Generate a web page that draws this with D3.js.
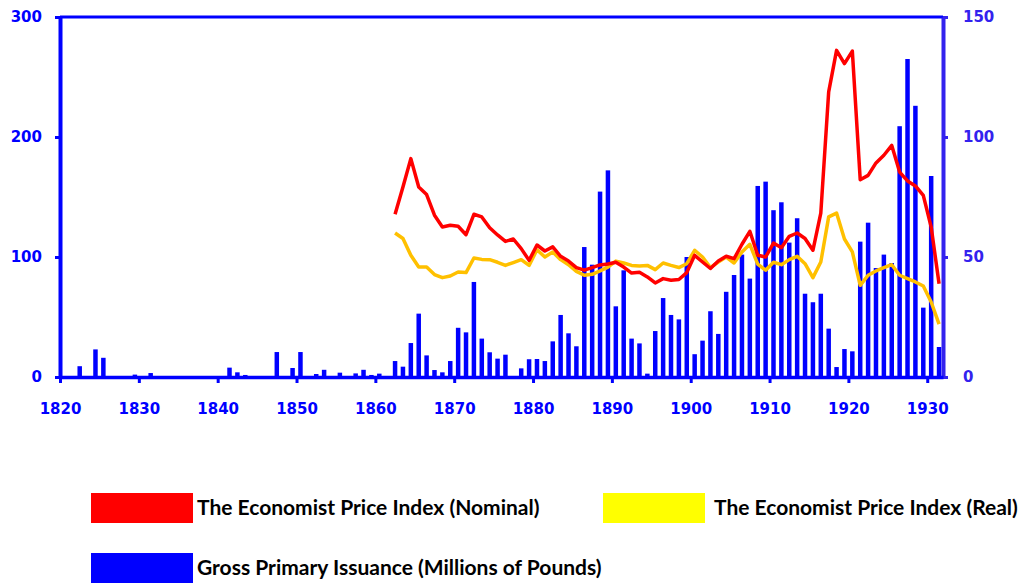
<!DOCTYPE html>
<html>
<head>
<meta charset="utf-8">
<script src="https://cdn.jsdelivr.net/npm/d3@7"></script>
<style>
  body { margin: 0; background: #fff; }
  .tick text { font-family: "DejaVu Sans", sans-serif; font-weight: bold; font-size: 15px; }
  .legend text { font-family: Lato, sans-serif; font-weight: bold; font-size: 21px; fill: #000; }
</style>
</head>
<body>
<script>
// categories (one per year)
const years = d3.range(1820, 1932);
const lineYears = d3.range(1862, 1932);

// Gross primary issuance, millions of pounds (left axis)
const issuance = [
  0, 0, 9, 0, 23, 16, 0, 0, 0, 2,
  0, 3.3, 0, 0, 0, 0, 0, 0.8, 0, 0,
  0, 7.8, 3.9, 1.7, 0, 0, 0, 20.8, 0, 7.5,
  20.8, 0, 2.5, 6, 0, 3.6, 0, 3, 6, 1.7,
  2.8, 0, 13.3, 8.6, 28.3, 52.8, 18, 5.8, 3.9, 13.3,
  41, 37.2, 79.2, 32, 20.6, 15.3, 18.6, 0, 7.2, 14.8,
  15, 13.3, 29.7, 51.7, 36.4, 25.6, 108.3, 93.6, 154.5, 172.2,
  58.9, 88.9, 32, 28, 2.8, 38.3, 65.8, 51.7, 48, 100,
  19, 30.3, 54.8, 35.9, 71, 85, 102, 82, 159.2, 162.8,
  139, 145.6, 112, 132.3, 69.4, 62.3, 69.4, 40.3, 8.3, 23.3,
  21.4, 112.8, 128.6, 90.8, 102, 95, 209, 265, 226, 57.8,
  167.5, 25
];

// The Economist price index (right axis), 1862-1931
const nominal = [
  67.8, 79.2, 91, 79.2, 76, 67.4, 62.5, 63.2, 62.8, 59.3,
  67.8, 66.7, 62.2, 59.2, 56.5, 57.5, 53.5, 48.6, 55, 52.5,
  54.2, 50.3, 48.3, 45.6, 44.5, 45.6, 46.7, 47.1, 47.8, 45.8,
  43.3, 43.6, 41.7, 39.2, 41, 40.3, 40.6, 43.5, 50.7, 47.9,
  45.2, 48.3, 50.3, 49.3, 55.3, 60.7, 50.7, 50, 55.8, 53.9,
  58.6, 60, 57.7, 52.8, 68.3, 118.8, 136.1, 130.6, 135.8, 82.2,
  84, 89.2, 92.4, 96.5, 85.4, 81.7, 79.6, 75.7, 62.5, 38.9
];
const real = [
  60, 57.7, 50.7, 45.8, 45.8, 42.7, 41.4, 42.1, 43.75, 43.5,
  49.6, 49, 48.9, 47.8, 46.5, 47.7, 48.9, 46.5, 53, 50,
  52.1, 48.9, 46.8, 44, 42.4, 42.8, 44.2, 45.8, 48.3, 47.5,
  46.5, 46.25, 46.5, 44.75, 47.5, 46.5, 45.6, 47.2, 52.8, 50,
  45.6, 47.9, 50, 47.5, 52.1, 55.3, 47, 44.5, 47.8, 46.8,
  48.9, 50.3, 47.2, 41.4, 47.9, 66.7, 68.3, 57.5, 52.1, 38.2,
  42.4, 44.2, 45.6, 46.8, 42.4, 41, 39.6, 37.9, 31.25, 22
];

const xTicks = d3.range(1820, 1931, 10);
const leftTicks = [0, 100, 200, 300];
const rightTicks = [0, 50, 100, 150];

const svgWidth = 1027;
const svgHeight = 585;
const margin = { top: 17, right: 84, bottom: 208, left: 60 };
const width = svgWidth - margin.left - margin.right;
const height = svgHeight - margin.top - margin.bottom;

const blue = '#0000ff';
const blue2 = '#3322ee';

const svg = d3.select('body')
  .append('svg')
  .attr('width', svgWidth)
  .attr('height', svgHeight);

const g = svg.append('g')
  .attr('transform', `translate(${margin.left},${margin.top})`);

const x = d3.scaleBand().domain(years).range([0, width]).paddingInner(0.43).paddingOuter(0.215);
const xAx = d3.scaleLinear().domain([1820, 1932]).range([0, width]);
const yL = d3.scaleLinear().domain([0, 300]).range([height, 0]);
const yR = d3.scaleLinear().domain([0, 150]).range([height, 0]);

// bars
g.append('g')
  .selectAll('rect')
  .data(years.map((yr, i) => ({ yr, v: issuance[i] })).filter(d => d.v > 0))
  .join('rect')
    .attr('x', d => x(d.yr))
    .attr('width', x.bandwidth())
    .attr('y', d => yL(d.v))
    .attr('height', d => height - yL(d.v))
    .attr('fill', blue);

const line = d3.line()
  .x(d => xAx(d.yr + 0.5))
  .y(d => yR(d.v));

g.append('path')
  .datum(lineYears.map((yr, i) => ({ yr, v: real[i] })))
  .attr('fill', 'none')
  .attr('stroke', '#ffc000')
  .attr('stroke-width', 3.5)
  .attr('stroke-linejoin', 'round')
  .attr('d', line);

g.append('path')
  .datum(lineYears.map((yr, i) => ({ yr, v: nominal[i] })))
  .attr('fill', 'none')
  .attr('stroke', '#ff0000')
  .attr('stroke-width', 3.5)
  .attr('stroke-linejoin', 'round')
  .attr('d', line);

// top border
g.append('line')
  .attr('x1', 0).attr('x2', width)
  .attr('y1', 0).attr('y2', 0)
  .attr('stroke', blue)
  .attr('stroke-width', 3);

const styleAxis = (sel, color, w) => {
  sel.select('.domain').attr('stroke', color).attr('stroke-width', w);
  sel.selectAll('.tick line').attr('stroke', color).attr('stroke-width', 3);
  sel.selectAll('.tick text').attr('fill', color);
};

g.append('g')
  .attr('transform', `translate(${width},0)`)
  .call(d3.axisRight(yR).tickValues(rightTicks).tickSize(5).tickSizeOuter(0).tickPadding(15))
  .call(s => styleAxis(s, blue2, 4));

g.append('g')
  .call(d3.axisLeft(yL).tickValues(leftTicks).tickSize(5).tickSizeOuter(0).tickPadding(13))
  .call(s => styleAxis(s, blue, 4));

g.append('g')
  .attr('transform', `translate(0,${height})`)
  .call(d3.axisBottom(xAx).tickValues(xTicks).tickFormat(d3.format('d')).tickSize(6).tickSizeOuter(0).tickPadding(20))
  .call(s => styleAxis(s, blue, 3.5));

// legend
const legendItems = [
  { label: 'The Economist Price Index (Nominal)', color: '#ff0000', x: 91, y: 493, tx: 197 },
  { label: 'The Economist Price Index (Real)', color: '#ffff00', x: 603, y: 493, tx: 714 },
  { label: 'Gross Primary Issuance (Millions of Pounds)', color: '#0000ff', x: 91, y: 553, tx: 197 }
];

const legend = svg.append('g').attr('class', 'legend');
legend.selectAll('rect')
  .data(legendItems)
  .join('rect')
    .attr('x', d => d.x)
    .attr('y', d => d.y)
    .attr('width', 102)
    .attr('height', 30)
    .attr('fill', d => d.color);
legend.selectAll('text')
  .data(legendItems)
  .join('text')
    .attr('x', d => d.tx)
    .attr('y', d => d.y + 15)
    .attr('dy', '0.35em')
    .text(d => d.label);
</script>
</body>
</html>
